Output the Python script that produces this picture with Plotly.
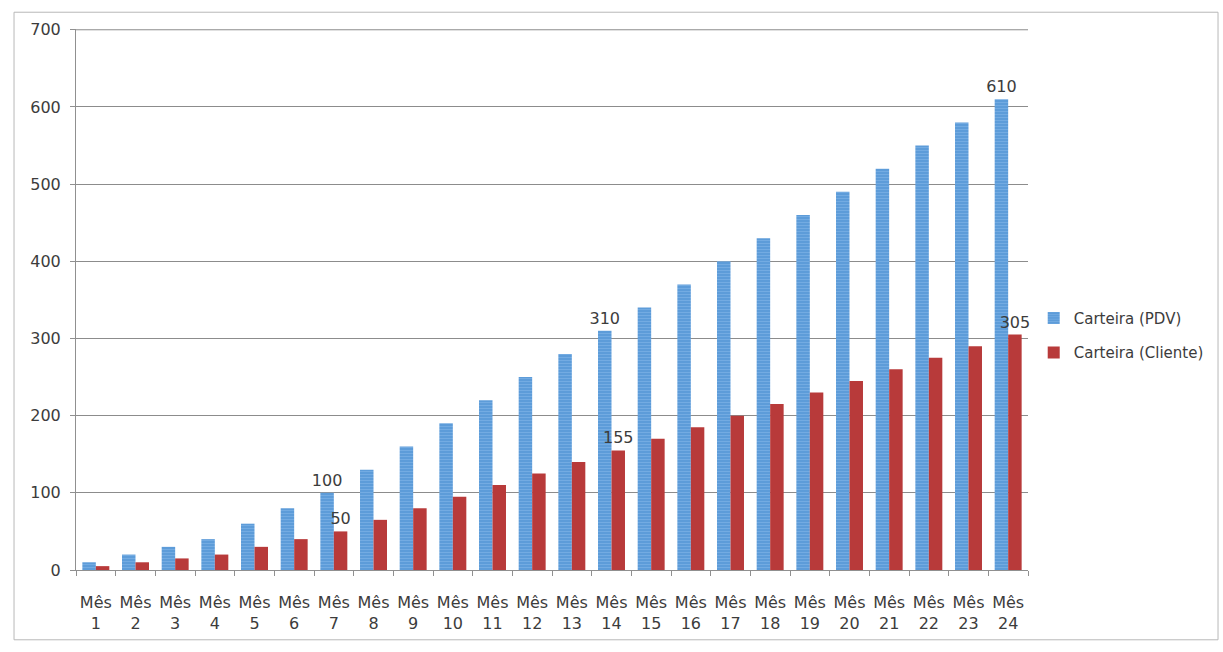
import plotly.graph_objects as go

months = [f"Mês<br>{i}" for i in range(1, 25)]
pdv = [10, 20, 30, 40, 60, 80, 100, 130, 160, 190, 220, 250,
       280, 310, 340, 370, 400, 430, 460, 490, 520, 550, 580, 610]
cliente = [5, 10, 15, 20, 30, 40, 50, 65, 80, 95, 110, 125,
           140, 155, 170, 185, 200, 215, 230, 245, 260, 275, 290, 305]
labeled_months = [7, 14, 24]
y_ticks = [0, 100, 200, 300, 400, 500, 600, 700]

pdv_text = [str(v) if (i + 1) in labeled_months else "" for i, v in enumerate(pdv)]
cli_text = [str(v) if (i + 1) in labeled_months else "" for i, v in enumerate(cliente)]

FONT = "DejaVu Sans, sans-serif"
TXT = "#3c3c3c"

fig = go.Figure()
fig.add_trace(go.Bar(
    x=months, y=pdv, name="Carteira (PDV)", legendgroup="a",
    text=pdv_text, textposition="outside", cliponaxis=False, constraintext="none",
    textfont=dict(size=16, color=TXT, family=FONT),
    marker=dict(color="#5b9ad8", line=dict(width=0),
                pattern=dict(shape="-", fgcolor="#8cbcec", bgcolor="#5b9ad8",
                             size=3, solidity=0.4)),
))
fig.add_trace(go.Bar(
    x=months, y=cliente, name="Carteira (Cliente)", legendgroup="b",
    text=cli_text, textposition="outside", cliponaxis=False, constraintext="none",
    textfont=dict(size=16, color=TXT, family=FONT),
    marker=dict(color="#b83a3a", line=dict(width=0)),
))

fig.update_layout(
    width=1223, height=652,
    margin=dict(l=76, r=195, t=29, b=82),
    paper_bgcolor="white", plot_bgcolor="white",
    barmode="group", bargap=0.32, bargroupgap=0,
    font=dict(family=FONT, size=16, color=TXT),
    legend=dict(x=1.006, y=0.434, yanchor="middle", xanchor="left",
                font=dict(size=15, color=TXT, family=FONT),
                itemsizing="constant", tracegroupgap=12),
    showlegend=True,
    shapes=[dict(type="rect", xref="paper", yref="paper",
                 x0=-0.0651, x1=1.1996, y0=-0.129, y1=1.031,
                 line=dict(color="#b8b8b8", width=1), layer="below"),
            dict(type="line", xref="paper", yref="y", x0=0, x1=1, y0=700, y1=700,
                 line=dict(color="#8c8c8c", width=1), layer="below")],
)
fig.update_xaxes(
    showline=True, linecolor="#909090", linewidth=1,
    ticks="outside", tickson="boundaries", ticklen=5, tickcolor="#909090",
    tickfont=dict(size=16, color=TXT), showgrid=False, tickangle=0,
    ticklabelstandoff=18,
)
fig.update_yaxes(
    range=[0, 701], tickvals=y_ticks,
    showline=True, linecolor="#909090", linewidth=1,
    showgrid=True, gridcolor="#8c8c8c", gridwidth=1,
    ticks="outside", ticklen=5, tickcolor="#909090",
    tickfont=dict(size=16, color=TXT), zeroline=False,
    ticklabelstandoff=6,
)

fig.write_html("out.html", config={"displayModeBar": False},
               post_script="document.body.style.margin='0';")
